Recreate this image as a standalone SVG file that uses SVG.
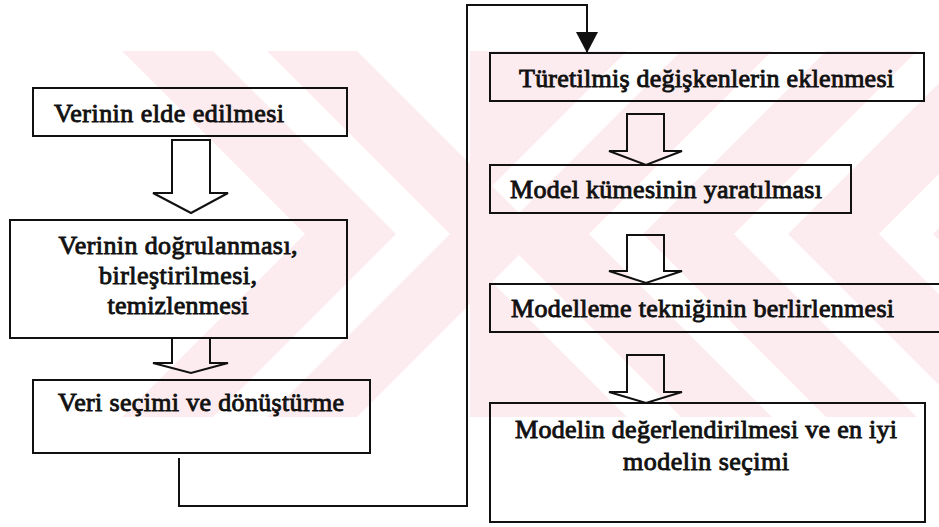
<svg xmlns="http://www.w3.org/2000/svg" width="939" height="527" viewBox="0 0 939 527">
  <style>
    .box { fill: none; stroke: #111; stroke-width: 2; }
    .lbl { font-family: 'Liberation Serif', serif; font-weight: normal; font-size: 26px; fill: #111; stroke: #111; stroke-width: 0.9px; }
    .mid { text-anchor: middle; }
    .hollow { fill: none; stroke: #111; stroke-width: 2; stroke-linejoin: miter; }
    .line { fill: none; stroke: #111; stroke-width: 2; }
    .wm { fill: #fdecef; }
    .gap { fill: #ffffff; }
  </style>
  <defs>
    <clipPath id="band"><rect x="0" y="51" width="939" height="366"/></clipPath>
    <clipPath id="right"><rect x="470" y="51" width="469" height="366"/></clipPath>
    <marker id="ah" viewBox="0 0 21 22" refX="21" refY="11" markerWidth="21" markerHeight="22" markerUnits="userSpaceOnUse" orient="auto">
      <path d="M0,0 L21,11 L0,22 z" fill="#111"/>
    </marker>
  </defs>
  <rect width="939" height="527" fill="#ffffff"/>

  <g id="watermark">
    <g clip-path="url(#right)">
      <rect class="wm" x="470" y="51" width="469" height="366"/>
      <polygon class="gap" points="627,51 681,51 498,234 681,417 627,417 444,234"/>
      <polygon class="gap" points="772,51 826,51 643,234 826,417 772,417 589,234"/>
      <polygon class="gap" points="917,51 971,51 788,234 971,417 917,417 734,234"/>
      <polygon class="gap" points="1062,51 1116,51 933,234 1116,417 1062,417 879,234"/>
    </g>
    <g clip-path="url(#band)">
      <polygon class="wm" points="122,51 213,51 396,234 213,417 122,417 305,234"/>
      <polygon class="wm" points="267,51 357,51 540,234 357,417 267,417 450,234"/>
    </g>
  </g>

  <g id="connectors">
    <path class="hollow" d="M172,140 V193 H153 L191,213 L228,193 H210 V140 Z"/>
    <path class="hollow" d="M172,338 V363 H153 L191,373 L228,363 H210 V338 Z"/>
    <path class="hollow" d="M627,114 V151 H609 L646,165 L682,151 H664 V114 Z"/>
    <path class="hollow" d="M627,235 V271 H609 L646,283 L682,271 H664 V235 Z"/>
    <path class="hollow" d="M627,355 V392 H609 L646,403 L682,392 H664 V355 Z"/>
    <polyline class="line" points="179,458 179,506 467,506 467,5 587,5 587,53" marker-end="url(#ah)"/>
  </g>

  <g id="n1">
    <rect class="box" x="33" y="88" width="314" height="48"/>
    <text class="lbl" x="54" y="122" textLength="230">Verinin elde edilmesi</text>
  </g>
  <g id="n2">
    <rect class="box" x="10" y="220" width="337" height="118"/>
    <text class="lbl mid" x="178" y="254" textLength="239">Verinin doğrulanması,</text>
    <text class="lbl mid" x="178" y="284" textLength="158">birleştirilmesi,</text>
    <text class="lbl mid" x="178" y="314" textLength="141">temizlenmesi</text>
  </g>
  <g id="n3">
    <rect class="box" x="33" y="380" width="337" height="73"/>
    <text class="lbl" x="58" y="411" textLength="286">Veri seçimi ve dönüştürme</text>
  </g>
  <g id="n4">
    <rect class="box" x="490" y="53" width="434" height="48"/>
    <text class="lbl" x="519" y="87" textLength="375">Türetilmiş değişkenlerin eklenmesi</text>
  </g>
  <g id="n5">
    <rect class="box" x="490" y="165" width="361" height="48"/>
    <text class="lbl" x="510" y="198" textLength="312">Model kümesinin yaratılması</text>
  </g>
  <g id="n6">
    <rect class="box" x="490" y="284" width="460" height="48"/>
    <text class="lbl" x="511" y="317" textLength="383">Modelleme tekniğinin berlirlenmesi</text>
  </g>
  <g id="n7">
    <rect class="box" x="490" y="403" width="435" height="119"/>
    <text class="lbl mid" x="706" y="438" textLength="382">Modelin değerlendirilmesi ve en iyi</text>
    <text class="lbl mid" x="706" y="470" textLength="166">modelin seçimi</text>
  </g>
</svg>
